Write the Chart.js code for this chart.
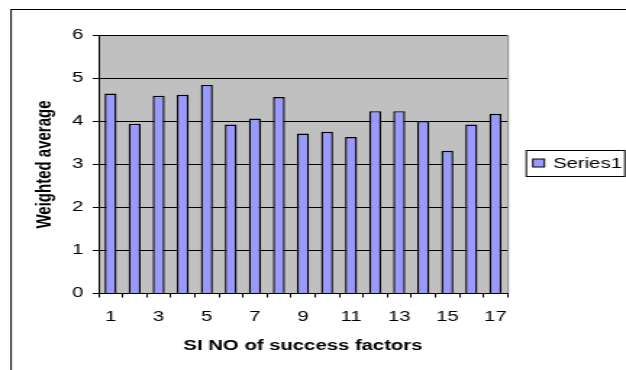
<!DOCTYPE html>
<html>
<head>
<meta charset="utf-8">
<script src="https://cdn.jsdelivr.net/npm/chart.js@4/dist/chart.umd.min.js"></script>
<style>
  html, body { margin: 0; padding: 0; background: #fff; overflow: hidden; }
  /* the chart is laid out narrow and widened sideways, giving the wide lettering */
  #wrap { width: 432px; height: 370px; transform: scaleX(1.449); transform-origin: 0 0; }
</style>
</head>
<body>
<div id="wrap"><canvas id="c" width="432" height="370"></canvas></div>
<script>
// Success factors by serial number and their weighted averages
const factorNumbers = ['1','2','3','4','5','6','7','8','9','10','11','12','13','14','15','16','17'];
const weightedAverages = [4.65, 3.95, 4.60, 4.62, 4.85, 3.93, 4.07, 4.57, 3.72, 3.76, 3.64, 4.24, 4.24, 4.01, 3.32, 3.93, 4.18];
const yTicks = [0, 1, 2, 3, 4, 5, 6];
const seriesName = 'Series1';
const xTitle = 'SI NO of success factors';
const yTitle = 'Weighted average';

const FONT = "'Liberation Sans', Arial, sans-serif";
const BAR_FILL = '#9999FF';

// grey plot area, outer frame and a boxed legend
const chartDecor = {
  id: 'chartDecor',
  beforeDraw(chart) {
    const { ctx, chartArea: a } = chart;
    ctx.save();
    ctx.fillStyle = '#fff';
    ctx.fillRect(0, 0, chart.width, chart.height);
    ctx.strokeStyle = '#000';
    ctx.lineWidth = 1;
    ctx.strokeRect(7.6, 9.5, chart.width + 20, chart.height + 20);
    ctx.fillStyle = '#C0C0C0';
    ctx.fillRect(a.left, a.top, a.right - a.left, a.bottom - a.top);
    ctx.strokeStyle = '#808080';
    ctx.beginPath();
    ctx.moveTo(a.right + 0.5, a.top);
    ctx.lineTo(a.right + 0.5, a.bottom);
    ctx.stroke();
    ctx.restore();
  },
  afterDraw(chart) {
    const { ctx, chartArea: a } = chart;
    const ds = chart.data.datasets[0];
    const x0 = a.right + 13, y0 = 150.5, w = 68, h = 26;
    ctx.save();
    ctx.fillStyle = '#fff';
    ctx.fillRect(x0, y0, w, h);
    ctx.strokeStyle = '#000';
    ctx.lineWidth = 1;
    ctx.strokeRect(x0, y0, w, h);
    ctx.fillStyle = ds.backgroundColor;
    ctx.fillRect(x0 + 4.5, y0 + 8.5, 8, 8);
    ctx.strokeRect(x0 + 4.5, y0 + 8.5, 8, 8);
    ctx.fillStyle = '#000';
    ctx.font = '14px ' + FONT;
    ctx.textBaseline = 'middle';
    ctx.fillText(ds.label, x0 + 18.5, y0 + h / 2 + 1);
    ctx.restore();
  }
};

new Chart(document.getElementById('c'), {
  type: 'bar',
  data: {
    labels: factorNumbers,
    datasets: [{
      label: seriesName,
      data: weightedAverages,
      backgroundColor: BAR_FILL,
      borderColor: '#000',
      borderWidth: 1.4,
      borderSkipped: 'start',
      barPercentage: 0.5,
      categoryPercentage: 1.0
    }]
  },
  options: {
    responsive: false,
    animation: false,
    events: [],
    layout: { padding: { left: 0, right: 81.8, top: 35.5, bottom: 0 } },
    plugins: { legend: { display: false }, tooltip: { enabled: false } },
    scales: {
      x: {
        offset: true,
        afterFit(scale) { scale.height = 76.5; },
        border: { display: true, color: '#000', width: 1 },
        grid: { display: true, offset: true, drawOnChartArea: false, drawTicks: true, tickLength: 4, color: '#000' },
        ticks: {
          autoSkip: false, maxRotation: 0, minRotation: 0, padding: 11,
          color: '#000', font: { family: FONT, size: 14 },
          callback(value, index) { return index % 2 === 0 ? this.getLabelForValue(value) : ''; }
        },
        title: {
          display: true, text: xTitle, color: '#000',
          font: { family: FONT, size: 14, weight: 'bold' },
          padding: { top: 0, bottom: 15.6 }
        }
      },
      y: {
        min: yTicks[0],
        max: yTicks[yTicks.length - 1],
        afterFit(scale) { scale.width = 68; },
        afterBuildTicks(scale) { scale.ticks = yTicks.map(v => ({ value: v })); },
        border: { display: true, color: '#000', width: 1 },
        grid: { display: true, drawTicks: true, tickLength: 4, color: '#000', lineWidth: 1 },
        ticks: { padding: 6.5, color: '#000', font: { family: FONT, size: 14 } },
        title: {
          display: true, text: yTitle, color: '#000',
          font: { family: FONT, size: 15, weight: 'bold' },
          padding: { top: 22, bottom: 0 }
        }
      }
    }
  },
  plugins: [chartDecor]
});
</script>
</body>
</html>
